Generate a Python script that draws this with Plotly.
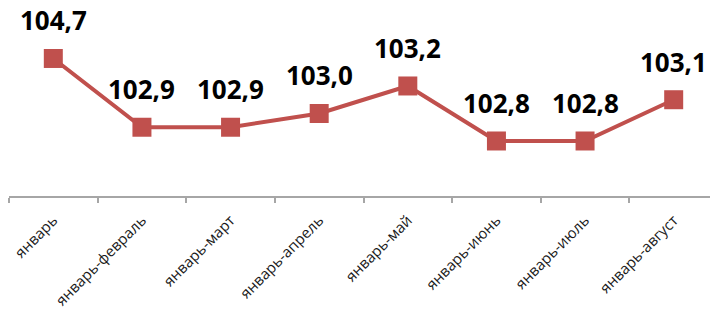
import plotly.graph_objects as go

categories = ["январь", "январь-февраль", "январь-март", "январь-апрель",
              "январь-май", "январь-июнь", "январь-июль", "январь-август"]
values = [103.4, 102.9, 102.9, 103.0, 103.2, 102.8, 102.8, 103.1]
labels = ["104,7", "102,9", "102,9", "103,0", "103,2", "102,8", "102,8", "103,1"]

color = "#C0504D"

fig = go.Figure()
fig.add_trace(go.Scatter(
    x=categories, y=values, mode="lines+markers",
    line=dict(color=color, width=4),
    marker=dict(symbol="square", size=19, color=color),
    hoverinfo="skip", showlegend=False, cliponaxis=False,
))

for c, v, t in zip(categories, values, labels):
    fig.add_annotation(x=c, y=v, text=t, showarrow=False, yshift=38,
                       font=dict(family="Open Sans", size=26, color="black", weight=700))

fig.update_layout(
    width=718, height=309,
    margin=dict(l=1, r=8, t=0, b=121),
    plot_bgcolor="white", paper_bgcolor="white",
    xaxis=dict(
        type="category", range=[-0.5, 7.5], automargin=False,
        showline=True, linecolor="#A6A6A6", linewidth=1.5,
        ticks="outside", tickson="boundaries", ticklen=5, tickcolor="#A6A6A6", tickwidth=1.5,
        tickangle=-45, showgrid=False, ticklabelstandoff=8,
        tickfont=dict(family="Open Sans", size=15, color="#1a1a1a"),
    ),
    yaxis=dict(range=[102.4, 103.767], visible=False, showgrid=False, zeroline=False,
               automargin=False),
)

fig.write_html("out.html")
